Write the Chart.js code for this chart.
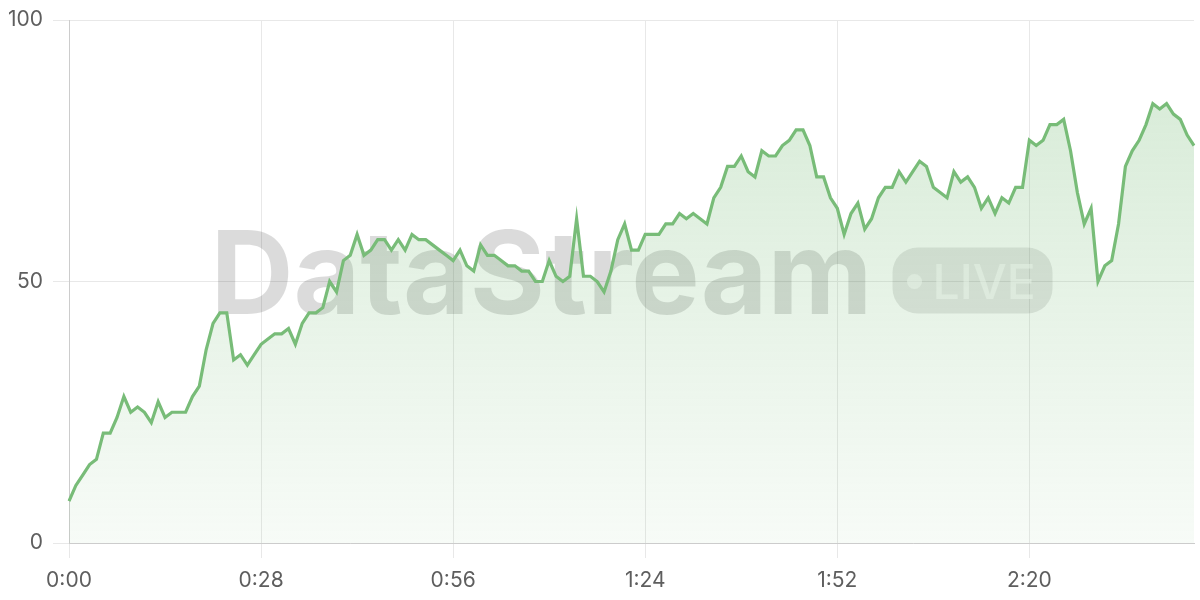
<!DOCTYPE html>
<html>
<head>
<meta charset="utf-8">
<script src="https://cdn.jsdelivr.net/npm/chart.js@4/dist/chart.umd.min.js"></script>
<style>
  html, body { margin: 0; padding: 0; background: #ffffff; }
  #wrap { width: 1200px; height: 600px; }
</style>
</head>
<body>
<div id="wrap"><canvas id="myChart"></canvas></div>
<script>
// One reading per second, 0:00 .. 2:44
const values = [
  8, 11, 13, 15, 16, 21, 21, 24, 28, 25, 26, 25, 23, 27, 24, 25, 25, 25, 28, 30,
  37, 42, 44, 44, 35, 36, 34, 36, 38, 39, 40, 40, 41, 38, 42, 44, 44, 45, 50, 48,
  54, 55, 59, 55, 56, 58, 58, 56, 58, 56, 59, 58, 58, 57, 56, 55, 54, 56, 53, 52,
  57, 55, 55, 54, 53, 53, 52, 52, 50, 50, 54, 51, 50, 51, 62, 51, 51, 50, 48, 52,
  58, 61, 56, 56, 59, 59, 59, 61, 61, 63, 62, 63, 62, 61, 66, 68, 72, 72, 74, 71,
  70, 75, 74, 74, 76, 77, 79, 79, 76, 70, 70, 66, 64, 59, 63, 65, 60, 62, 66, 68,
  68, 71, 69, 71, 73, 72, 68, 67, 66, 71, 69, 70, 68, 64, 66, 63, 66, 65, 68, 68,
  77, 76, 77, 80, 80, 81, 75, 67, 61, 64, 50, 53, 54, 61, 72, 75, 77, 80, 84, 83,
  84, 82, 81, 78, 76,
];

// x labels shown every 28 seconds
const labelStep = 28;
const yTicks = [0, 50, 100];

const watermarkText = "DataStream";
const badgeText = "LIVE";

function formatTime(sec) {
  const m = Math.floor(sec / 60);
  const s = sec % 60;
  return m + ":" + String(s).padStart(2, "0");
}

const labels = values.map((v, i) => formatTime(i));

const lineColor = "rgb(120, 188, 120)";
const tickFont = { family: "Inter, 'Noto Sans', sans-serif", size: 21 };

// watermark drawn behind the line, centred on the plot area
const watermarkPlugin = {
  id: "watermark",
  beforeDatasetsDraw(chart) {
    const { ctx, chartArea } = chart;
    const cx = (chartArea.left + chartArea.right) / 2;
    const cy = (chartArea.top + chartArea.bottom) / 2;

    ctx.save();
    ctx.font = "bold 115px Inter, 'Noto Sans', sans-serif";
    const textW = ctx.measureText(watermarkText).width;
    const pillW = 160;
    const pillH = 66;
    const gap = 20;
    const startX = cx - (textW + gap + pillW) / 2;

    ctx.fillStyle = "rgba(0, 0, 0, 0.14)";
    ctx.textBaseline = "alphabetic";
    ctx.textAlign = "left";
    ctx.fillText(watermarkText, startX, cy + 32);

    // pill badge
    const px = startX + textW + gap;
    const py = cy - 1 - pillH / 2;
    ctx.fillStyle = "rgba(0, 0, 0, 0.1)";
    ctx.beginPath();
    ctx.roundRect(px, py, pillW, pillH, 25);
    ctx.fill();

    ctx.fillStyle = "rgba(255, 255, 255, 0.55)";
    ctx.beginPath();
    ctx.arc(px + 22, cy, 7.5, 0, Math.PI * 2);
    ctx.fill();
    ctx.font = "500 48px Inter, 'Noto Sans', sans-serif";
    ctx.fillText(badgeText, px + 40, cy + 17);
    ctx.restore();
  },
};

new Chart(document.getElementById("myChart"), {
  type: "line",
  data: {
    labels: labels,
    datasets: [
      {
        data: values,
        borderColor: lineColor,
        borderWidth: 3.2,
        pointRadius: 0,
        tension: 0,
        fill: "origin",
        backgroundColor: function (context) {
          const { ctx, chartArea } = context.chart;
          if (!chartArea) return "rgba(120, 188, 120, 0.15)";
          const g = ctx.createLinearGradient(0, chartArea.top, 0, chartArea.bottom);
          g.addColorStop(0, "rgba(120, 188, 120, 0.32)");
          g.addColorStop(1, "rgba(120, 188, 120, 0.06)");
          return g;
        },
      },
    ],
  },
  options: {
    responsive: true,
    maintainAspectRatio: false,
    animation: false,
    layout: { padding: { top: 2, right: 6, bottom: 0, left: 0 } },
    plugins: {
      legend: { display: false },
      tooltip: { enabled: false },
    },
    scales: {
      x: {
        type: "category",
        afterBuildTicks(scale) {
          scale.ticks = scale.ticks.filter((t) => t.value % labelStep === 0);
        },
        afterFit(scale) {
          scale.height = 57;
        },
        grid: { color: "#e8e8e8", tickLength: 15 },
        border: { color: "#cccccc" },
        ticks: {
          autoSkip: false,
          maxRotation: 0,
          padding: 10,
          color: "#5e5e5e",
          font: tickFont,
        },
      },
      y: {
        min: 0,
        max: 100,
        afterBuildTicks(scale) {
          scale.ticks = yTicks.map((v) => ({ value: v }));
        },
        afterFit(scale) {
          scale.width = 69;
          scale.paddingTop = 20;
        },
        grid: { color: "#e8e8e8", tickLength: 16 },
        border: { color: "#cccccc" },
        ticks: {
          padding: 10,
          color: "#5e5e5e",
          font: tickFont,
        },
      },
    },
  },
  plugins: [watermarkPlugin],
});
</script>
</body>
</html>
